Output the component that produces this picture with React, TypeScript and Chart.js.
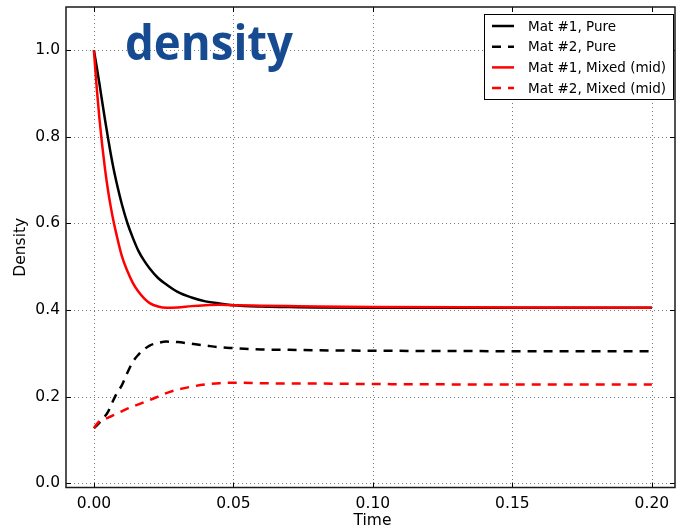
import React, { useEffect, useRef } from "react";
import { Chart, registerables } from "chart.js";
Chart.register(...registerables);

const TIME = [0, 0.001, 0.002, 0.003, 0.004, 0.005, 0.006, 0.007, 0.008, 0.01, 0.012, 0.014, 0.016, 0.018, 0.02, 0.023, 0.026, 0.03, 0.035, 0.04, 0.045, 0.05, 0.06, 0.07, 0.08, 0.1, 0.15, 0.2];
const MAT1_PURE = [1.0, 0.962, 0.922, 0.88, 0.839, 0.8, 0.762, 0.728, 0.698, 0.645, 0.601, 0.566, 0.536, 0.514, 0.496, 0.474, 0.459, 0.442, 0.429, 0.42, 0.415, 0.411, 0.408, 0.407, 0.406, 0.405, 0.405, 0.405];
const MAT2_PURE = [0.127, 0.133, 0.14, 0.148, 0.155, 0.164, 0.178, 0.192, 0.205, 0.226, 0.255, 0.281, 0.297, 0.309, 0.318, 0.324, 0.327, 0.326, 0.322, 0.318, 0.314, 0.312, 0.309, 0.308, 0.307, 0.306, 0.305, 0.305];
const MAT1_MIXED = [1.0, 0.914, 0.841, 0.779, 0.725, 0.679, 0.64, 0.606, 0.577, 0.525, 0.49, 0.462, 0.442, 0.427, 0.416, 0.408, 0.405, 0.406, 0.409, 0.411, 0.412, 0.411, 0.41, 0.409, 0.408, 0.407, 0.406, 0.405];
const MAT2_MIXED = [0.127, 0.136, 0.143, 0.147, 0.149, 0.151, 0.154, 0.157, 0.16, 0.166, 0.172, 0.177, 0.182, 0.187, 0.192, 0.2, 0.208, 0.216, 0.223, 0.228, 0.231, 0.232, 0.231, 0.23, 0.23, 0.229, 0.228, 0.228];

const X_TICKS = [0, 0.05, 0.1, 0.15, 0.2];
const Y_TICKS = [0, 0.2, 0.4, 0.6, 0.8, 1.0];
const SERIES_LABELS = ["Mat #1, Pure", "Mat #2, Pure", "Mat #1, Mixed (mid)", "Mat #2, Mixed (mid)"];
const SERIES_COLORS = ["#000000", "#000000", "#ff0000", "#ff0000"];
const SERIES_DASHED = [false, true, false, true];
const TITLE = "density";
const X_TITLE = "Time";
const Y_TITLE = "Density";

const FONT = '"DejaVu Sans", sans-serif';
const DASH = [9, 7];

const decor = {
  id: "decor",
  beforeDatasetsDraw(chart: any) {
    const { ctx, chartArea: a, scales } = chart;
    const x = scales.x, y = scales.y;
    ctx.save();
    ctx.strokeStyle = "#7a7a7a";
    ctx.lineWidth = 1;
    ctx.setLineDash([1, 3]);
    for (const v of X_TICKS) {
      const px = Math.round(x.getPixelForValue(v)) + 0.5;
      ctx.beginPath(); ctx.moveTo(px, a.top); ctx.lineTo(px, a.bottom); ctx.stroke();
    }
    for (const v of Y_TICKS) {
      const py = Math.round(y.getPixelForValue(v)) + 0.5;
      ctx.beginPath(); ctx.moveTo(a.left, py); ctx.lineTo(a.right, py); ctx.stroke();
    }
    ctx.restore();
  },
  afterDraw(chart: any) {
    const { ctx, chartArea: a, scales } = chart;
    const x = scales.x, y = scales.y;
    ctx.save();
    ctx.strokeStyle = "#000";
    ctx.lineWidth = 1;
    ctx.setLineDash([]);
    const TL = 5;
    for (const v of X_TICKS) {
      const px = Math.round(x.getPixelForValue(v)) + 0.5;
      ctx.beginPath(); ctx.moveTo(px, a.bottom); ctx.lineTo(px, a.bottom - TL); ctx.stroke();
      ctx.beginPath(); ctx.moveTo(px, a.top); ctx.lineTo(px, a.top + TL); ctx.stroke();
    }
    for (const v of Y_TICKS) {
      const py = Math.round(y.getPixelForValue(v)) + 0.5;
      ctx.beginPath(); ctx.moveTo(a.left, py); ctx.lineTo(a.left + TL, py); ctx.stroke();
      ctx.beginPath(); ctx.moveTo(a.right, py); ctx.lineTo(a.right - TL, py); ctx.stroke();
    }
    ctx.strokeStyle = "#1a1a1a";
    ctx.lineWidth = 1.5;
    ctx.strokeRect(a.left, a.top, a.right - a.left, a.bottom - a.top);

    // title
    ctx.save();
    ctx.fillStyle = "#174b91";
    ctx.font = 'bold 48px "Open Sans", sans-serif';
    ctx.textAlign = "left";
    ctx.textBaseline = "alphabetic";
    const w = ctx.measureText(TITLE).width;
    const sx = 168 / w;
    ctx.translate(125, 60);
    ctx.scale(sx, 1);
    ctx.fillText(TITLE, 0, 0);
    ctx.restore();

    // axis titles
    ctx.fillStyle = "#000";
    ctx.font = `15.5px ${FONT}`;
    ctx.textAlign = "center";
    ctx.textBaseline = "alphabetic";
    ctx.fillText(X_TITLE, (a.left + a.right) / 2 + 2, 525);
    ctx.save();
    ctx.translate(25, (a.top + a.bottom) / 2);
    ctx.rotate(-Math.PI / 2);
    ctx.fillText(Y_TITLE, 0, 0);
    ctx.restore();

    // legend
    const lx = 484.5, ly = 14.5, lw = 189, lh = 85;
    ctx.fillStyle = "#fff";
    ctx.fillRect(lx, ly, lw, lh);
    ctx.strokeStyle = "#000";
    ctx.lineWidth = 1;
    ctx.strokeRect(lx, ly, lw, lh);
    ctx.font = `13.5px ${FONT}`;
    ctx.textAlign = "left";
    ctx.textBaseline = "middle";
    SERIES_LABELS.forEach((label, i) => {
      const cy = 26 + i * 20.7;
      ctx.save();
      ctx.strokeStyle = SERIES_COLORS[i];
      ctx.lineWidth = 2.5;
      ctx.setLineDash(SERIES_DASHED[i] ? DASH : []);
      ctx.beginPath(); ctx.moveTo(492, cy); ctx.lineTo(514, cy); ctx.stroke();
      ctx.restore();
      ctx.fillStyle = "#000";
      ctx.fillText(label, 528, cy + 1);
    });
    ctx.restore();
  },
};

export default function App() {
  const ref = useRef<HTMLCanvasElement | null>(null);
  useEffect(() => {
    if (!ref.current) return;
    const series = [MAT1_PURE, MAT2_PURE, MAT1_MIXED, MAT2_MIXED];
    const chart = new Chart(ref.current, {
      type: "line",
      data: {
        datasets: series.map((vals, i) => ({
          label: SERIES_LABELS[i],
          data: TIME.map((t, k) => ({ x: t, y: vals[k] })),
          borderColor: SERIES_COLORS[i],
          borderWidth: 2.5,
          borderDash: SERIES_DASHED[i] ? DASH : [],
          pointRadius: 0,
          fill: false,
          cubicInterpolationMode: "monotone" as const,
          order: 4 - i,
        })),
      },
      options: {
        animation: false,
        responsive: false,
        devicePixelRatio: 1,
        layout: { padding: { top: 7, right: 1, left: 0, bottom: 0 } },
        plugins: { legend: { display: false }, tooltip: { enabled: false }, title: { display: false } },
        scales: {
          x: {
            type: "linear",
            min: -0.01,
            max: 0.2083,
            grid: { display: false, drawTicks: false },
            border: { display: false },
            ticks: {
              padding: 7,
              color: "#000",
              font: { family: FONT, size: 15.5 },
              callback: (v: any) => Number(v).toFixed(2),
              maxRotation: 0,
              autoSkip: false,
            },
            afterBuildTicks: (s: any) => { s.ticks = X_TICKS.map((v) => ({ value: v })); },
            afterFit: (s: any) => { s.height = 41.5; s.paddingLeft = 0; s.paddingRight = 0; s.paddingTop = 0; s.paddingBottom = 0; },
          },
          y: {
            type: "linear",
            min: -0.01,
            max: 1.1,
            grid: { display: false, drawTicks: false },
            border: { display: false },
            ticks: {
              padding: 6,
              color: "#000",
              font: { family: FONT, size: 15.5 },
              callback: (v: any) => Number(v).toFixed(1),
              autoSkip: false,
            },
            afterBuildTicks: (s: any) => { s.ticks = Y_TICKS.map((v) => ({ value: v })); },
            afterFit: (s: any) => { s.width = 66; s.paddingLeft = 0; s.paddingRight = 0; s.paddingTop = 0; s.paddingBottom = 0; },
          },
        },
      },
      plugins: [decor],
    });
    return () => chart.destroy();
  }, []);
  return (
    <div style={{ position: "fixed", left: 0, top: 0, width: 676, height: 529, background: "#fff" }}>
      <canvas ref={ref} width={676} height={529} style={{ display: "block", width: 676, height: 529 }} />
    </div>
  );
}
